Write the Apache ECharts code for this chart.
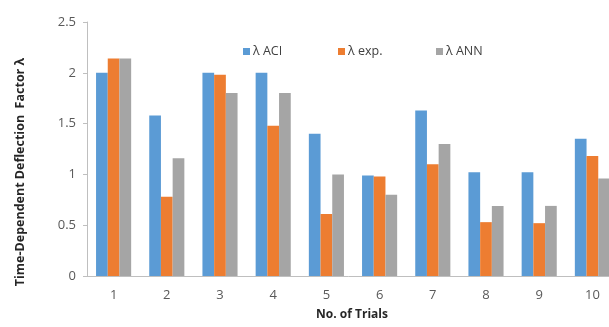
<!DOCTYPE html>
<html><head><meta charset="utf-8">
<script src="https://cdn.jsdelivr.net/npm/echarts@6/dist/echarts.min.js"></script>
<style>html,body{margin:0;padding:0;background:#fff}#c{width:609px;height:327px}</style>
</head><body><div id="c"></div>
<script>
const categories = ['1','2','3','4','5','6','7','8','9','10'];
const seriesNames = ['λ ACI','λ exp.','λ ANN'];
const aci = [2.0, 1.58, 2.0, 2.0, 1.40, 0.99, 1.63, 1.02, 1.02, 1.35];
const exp = [2.14, 0.78, 1.98, 1.48, 0.61, 0.98, 1.10, 0.53, 0.52, 1.18];
const ann = [2.14, 1.16, 1.80, 1.80, 1.00, 0.80, 1.30, 0.69, 0.69, 0.96];
const colors = ['#5B9BD5','#ED7D31','#A5A5A5'];
const font = "'Open Sans', 'Liberation Sans', sans-serif";
const legendLeft = [243, 338, 436];

const chart = echarts.init(document.getElementById('c'), null, {renderer:'canvas'});
chart.setOption({
  animation:false,
  color: colors,
  textStyle:{fontFamily:font},
  legend: seriesNames.map((n,i)=>({
    left:legendLeft[i], top:45, padding:0, itemWidth:7, itemHeight:7,
    icon:'rect',
    textStyle:{fontSize:12.5, color:'#404040', fontFamily:font, padding:[0,0,0,-2]},
    data:[n]
  })),
  grid:{left:87, width:532, top:22, bottom:51, containLabel:false, outerBoundsMode:'none'},
  xAxis:{
    type:'category', data:categories,
    axisLine:{lineStyle:{color:'#BFBFBF'}},
    axisTick:{show:false},
    axisLabel:{fontSize:13, color:'#595959', margin:13, fontFamily:font},
  },
  yAxis:{
    type:'value', min:0, max:2.5, interval:0.5,
    axisLine:{show:true, lineStyle:{color:'#BFBFBF'}},
    axisTick:{show:true, length:4, lineStyle:{color:'#BFBFBF'}},
    splitLine:{show:false},
    axisLabel:{fontSize:13, color:'#595959', margin:11, fontFamily:font}
  },
  graphic:[{
    type:'text', x:20, y:172, rotation:Math.PI/2,
    style:{text:'Time-Dependent Deflection  Factor λ', fill:'#262626', font:"bold 12.5px "+font, textAlign:'center', textVerticalAlign:'middle'}
  },{
    type:'text', x:352, y:315,
    style:{text:'No. of Trials', fill:'#262626', font:"bold 12px "+font, textAlign:'center', textVerticalAlign:'middle'}
  }],
  series: [aci, exp, ann].map((d,i)=>({
    name: seriesNames[i], type:'bar', data:d,
    barGap:'0%', barCategoryGap:'34%',
    itemStyle:{color:colors[i]}
  }))
});
</script></body></html>
